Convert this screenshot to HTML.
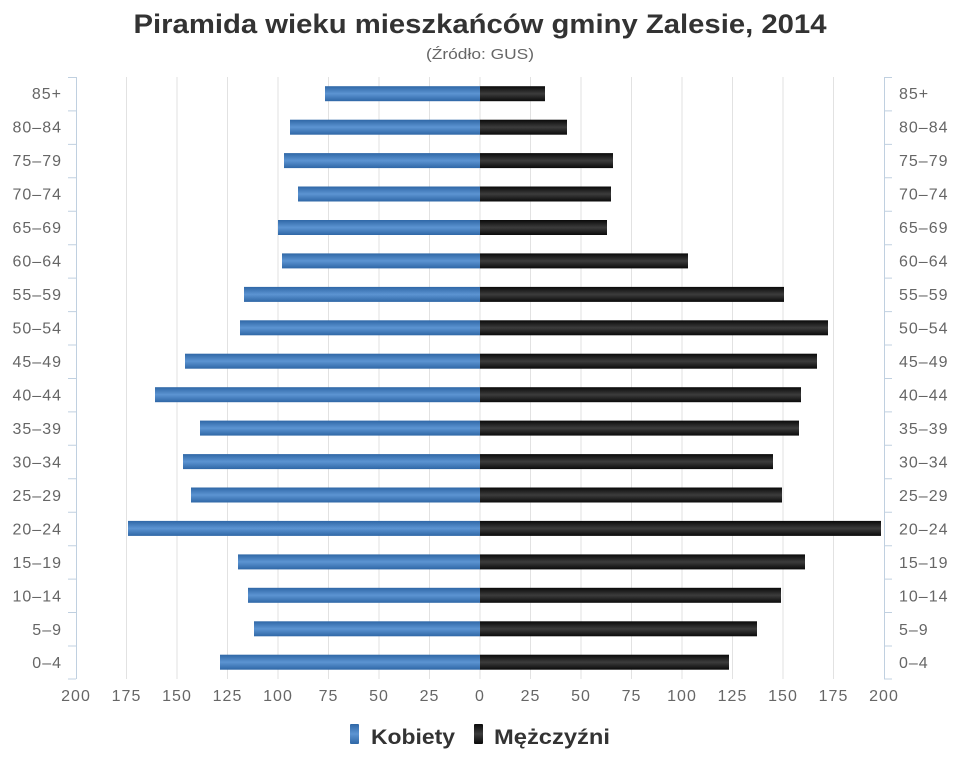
<!DOCTYPE html>
<html><head><meta charset="utf-8"><style>body{margin:0;background:#fff}svg{display:block}</style></head><body>
<svg width="960" height="768" xmlns="http://www.w3.org/2000/svg" font-family="'Liberation Sans', sans-serif">
<defs>
<linearGradient id="b" x1="0" y1="0" x2="0" y2="1"><stop offset="0" stop-color="#2f67a6"/><stop offset="0.5" stop-color="#5c94d2"/><stop offset="1" stop-color="#2f67a6"/></linearGradient>
<linearGradient id="k" x1="0" y1="0" x2="0" y2="1"><stop offset="0" stop-color="#0a0a0a"/><stop offset="0.5" stop-color="#3c3c3c"/><stop offset="1" stop-color="#0a0a0a"/></linearGradient>
</defs>
<rect width="960" height="768" fill="#fff"/>
<text x="480" y="33" text-anchor="middle" font-size="27" font-weight="bold" fill="#333" textLength="693" lengthAdjust="spacingAndGlyphs">Piramida wieku mieszkańców gminy Zalesie, 2014</text>
<text x="480" y="59" text-anchor="middle" font-size="15" fill="#666" textLength="108" lengthAdjust="spacingAndGlyphs">(Źródło: GUS)</text>
<g stroke="#e2e2e2" stroke-width="1">
<line x1="126.5" y1="77" x2="126.5" y2="679"/><line x1="177" y1="77" x2="177" y2="679"/><line x1="227.5" y1="77" x2="227.5" y2="679"/><line x1="278" y1="77" x2="278" y2="679"/><line x1="328.5" y1="77" x2="328.5" y2="679"/><line x1="379" y1="77" x2="379" y2="679"/><line x1="429.5" y1="77" x2="429.5" y2="679"/><line x1="480" y1="77" x2="480" y2="679"/><line x1="530.5" y1="77" x2="530.5" y2="679"/><line x1="581" y1="77" x2="581" y2="679"/><line x1="631.5" y1="77" x2="631.5" y2="679"/><line x1="682" y1="77" x2="682" y2="679"/><line x1="732.5" y1="77" x2="732.5" y2="679"/><line x1="783" y1="77" x2="783" y2="679"/><line x1="833.5" y1="77" x2="833.5" y2="679"/>
</g>
<g stroke="#c0d0e0" stroke-width="1">
<line x1="76.5" y1="77" x2="76.5" y2="679"/><line x1="884.5" y1="77" x2="884.5" y2="679"/>
<path d="M68 77.5h8M68 110.9h8M68 144.4h8M68 177.8h8M68 211.3h8M68 244.7h8M68 278.1h8M68 311.6h8M68 345h8M68 378.5h8M68 411.9h8M68 445.3h8M68 478.8h8M68 512.2h8M68 545.7h8M68 579.1h8M68 612.5h8M68 646h8M68 679h8"/>
<path d="M884 77.5h8M884 110.9h8M884 144.4h8M884 177.8h8M884 211.3h8M884 244.7h8M884 278.1h8M884 311.6h8M884 345h8M884 378.5h8M884 411.9h8M884 445.3h8M884 478.8h8M884 512.2h8M884 545.7h8M884 579.1h8M884 612.5h8M884 646h8M884 679h8"/>
</g>
<g fill="url(#b)">
<rect x="325" y="86.2" width="155" height="15"/>
<rect x="290" y="119.7" width="190" height="15"/>
<rect x="284" y="153.1" width="196" height="15"/>
<rect x="298" y="186.5" width="182" height="15"/>
<rect x="278" y="220" width="202" height="15"/>
<rect x="282" y="253.4" width="198" height="15"/>
<rect x="244" y="286.9" width="236" height="15"/>
<rect x="240" y="320.3" width="240" height="15"/>
<rect x="185" y="353.7" width="295" height="15"/>
<rect x="155" y="387.2" width="325" height="15"/>
<rect x="200" y="420.6" width="280" height="15"/>
<rect x="183" y="454.1" width="297" height="15"/>
<rect x="191" y="487.5" width="289" height="15"/>
<rect x="128" y="520.9" width="352" height="15"/>
<rect x="238" y="554.4" width="242" height="15"/>
<rect x="248" y="587.8" width="232" height="15"/>
<rect x="254" y="621.3" width="226" height="15"/>
<rect x="220" y="654.7" width="260" height="15"/>
</g>
<g fill="url(#k)">
<rect x="480" y="86.2" width="65" height="15"/>
<rect x="480" y="119.7" width="87" height="15"/>
<rect x="480" y="153.1" width="133" height="15"/>
<rect x="480" y="186.5" width="131" height="15"/>
<rect x="480" y="220" width="127" height="15"/>
<rect x="480" y="253.4" width="208" height="15"/>
<rect x="480" y="286.9" width="304" height="15"/>
<rect x="480" y="320.3" width="348" height="15"/>
<rect x="480" y="353.7" width="337" height="15"/>
<rect x="480" y="387.2" width="321" height="15"/>
<rect x="480" y="420.6" width="319" height="15"/>
<rect x="480" y="454.1" width="293" height="15"/>
<rect x="480" y="487.5" width="302" height="15"/>
<rect x="480" y="520.9" width="401" height="15"/>
<rect x="480" y="554.4" width="325" height="15"/>
<rect x="480" y="587.8" width="301" height="15"/>
<rect x="480" y="621.3" width="277" height="15"/>
<rect x="480" y="654.7" width="249" height="15"/>
</g>
<g font-size="16" fill="#666" text-anchor="end" letter-spacing="1">
<text x="62" y="99">85+</text><text x="62" y="132.5">80–84</text><text x="62" y="166">75–79</text><text x="62" y="199.5">70–74</text><text x="62" y="233">65–69</text><text x="62" y="266.5">60–64</text><text x="62" y="300">55–59</text><text x="62" y="333.5">50–54</text><text x="62" y="367">45–49</text><text x="62" y="400.5">40–44</text><text x="62" y="434">35–39</text><text x="62" y="467.5">30–34</text><text x="62" y="501">25–29</text><text x="62" y="534.5">20–24</text><text x="62" y="568">15–19</text><text x="62" y="601.5">10–14</text><text x="62" y="635">5–9</text><text x="62" y="668">0–4</text>
</g>
<g font-size="16" fill="#666" letter-spacing="1">
<text x="899" y="99">85+</text><text x="899" y="132.5">80–84</text><text x="899" y="166">75–79</text><text x="899" y="199.5">70–74</text><text x="899" y="233">65–69</text><text x="899" y="266.5">60–64</text><text x="899" y="300">55–59</text><text x="899" y="333.5">50–54</text><text x="899" y="367">45–49</text><text x="899" y="400.5">40–44</text><text x="899" y="434">35–39</text><text x="899" y="467.5">30–34</text><text x="899" y="501">25–29</text><text x="899" y="534.5">20–24</text><text x="899" y="568">15–19</text><text x="899" y="601.5">10–14</text><text x="899" y="635">5–9</text><text x="899" y="668">0–4</text>
</g>
<g font-size="16" fill="#666" text-anchor="middle" letter-spacing="1">
<text x="76" y="701">200</text><text x="126.5" y="701">175</text><text x="177" y="701">150</text><text x="227.5" y="701">125</text><text x="278" y="701">100</text><text x="328.5" y="701">75</text><text x="379" y="701">50</text><text x="429.5" y="701">25</text><text x="480" y="701">0</text><text x="530.5" y="701">25</text><text x="581" y="701">50</text><text x="631.5" y="701">75</text><text x="682" y="701">100</text><text x="732.5" y="701">125</text><text x="783" y="701">150</text><text x="833.5" y="701">175</text><text x="884" y="701">200</text>
</g>
<rect x="350" y="724" width="9" height="20" fill="url(#b)" rx="1"/>
<text x="371" y="744" font-size="21" font-weight="bold" fill="#333" textLength="84" lengthAdjust="spacingAndGlyphs">Kobiety</text>
<rect x="474" y="724" width="9" height="20" fill="url(#k)" rx="1"/>
<text x="494" y="744" font-size="21" font-weight="bold" fill="#333" textLength="116" lengthAdjust="spacingAndGlyphs">Mężczyźni</text>
</svg>
</body></html>
